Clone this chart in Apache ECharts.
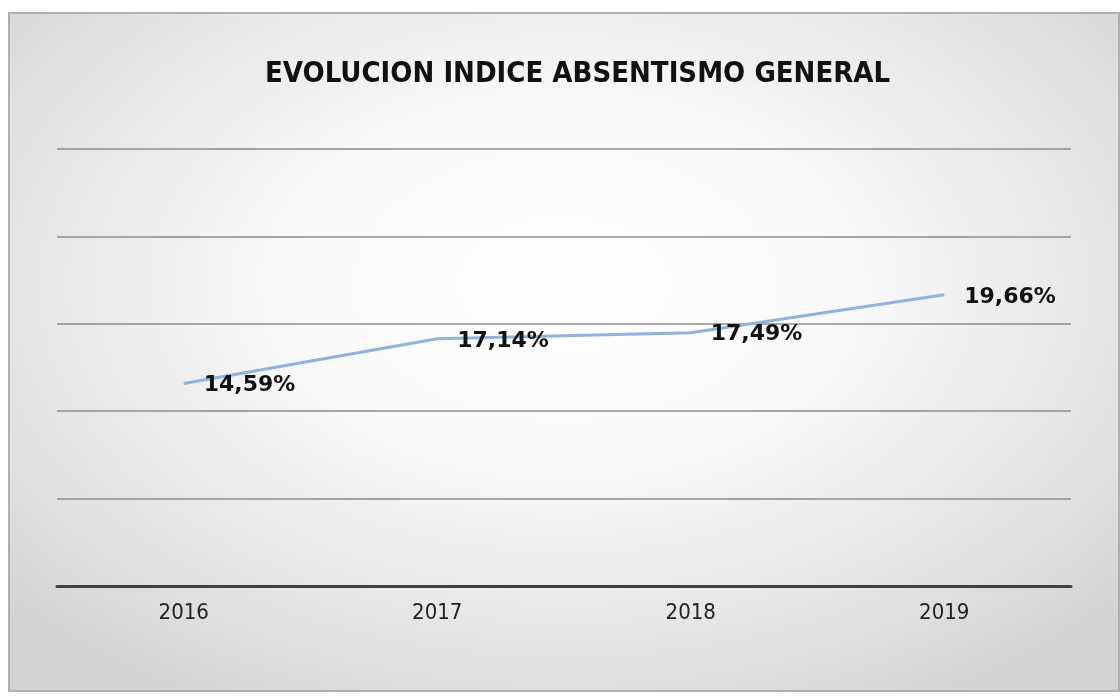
<!DOCTYPE html>
<html>
<head>
<meta charset="utf-8">
<script src="https://cdn.jsdelivr.net/npm/echarts@6/dist/echarts.min.js"></script>
<style>
  html, body { margin: 0; padding: 0; background: #ffffff; }
  #frame {
    position: absolute; left: 8px; top: 12px; width: 1108px; height: 676px;
    border: 2px solid #b0b0b0;
    background: radial-gradient(ellipse 68% 72% at 50% 40%, #ffffff 0%, #fafafa 35%, #e4e4e4 75%, #d3d3d3 100%);
  }
  #chart { position: absolute; left: 0; top: 0; width: 1120px; height: 698px; }
</style>
</head>
<body>
<div id="frame"></div>
<div id="chart"></div>
<script>
// Evolucion indice absentismo general (%)
var years = ['2016', '2017', '2018', '2019'];
var absentismo = [14.59, 17.14, 17.49, 19.66];

var myChart = echarts.init(document.getElementById('chart'));

var option = {
    backgroundColor: 'transparent',
    animation: false,
    title: {
        text: 'EVOLUCION INDICE ABSENTISMO GENERAL',
        left: 260,
        top: 55,
        textStyle: {
            fontFamily: 'DejaVu Sans Condensed',
            fontWeight: 'bold',
            fontSize: 29,
            color: '#111111'
        }
    },
    grid: {
        left: 57,
        right: 49,
        top: 149,
        bottom: 112
    },
    xAxis: {
        type: 'category',
        data: years,
        boundaryGap: true,
        axisLine: { lineStyle: { color: '#404040', width: 3 } },
        axisTick: { show: false },
        axisLabel: {
            margin: 16,
            fontFamily: 'DejaVu Sans Condensed',
            fontSize: 22,
            color: '#222222'
        }
    },
    yAxis: {
        type: 'value',
        min: 3,
        max: 28,
        interval: 5,
        axisLine: { show: false },
        axisTick: { show: false },
        axisLabel: { show: false },
        splitLine: { lineStyle: { color: '#8c8c8c', width: 1.5 } }
    },
    series: [
        {
            name: 'Absentismo',
            type: 'line',
            data: absentismo,
            symbol: 'circle',
            symbolSize: 0,
            showSymbol: true,
            itemStyle: { color: '#8eb2e2' },
            lineStyle: { color: '#8eb2e2', width: 3 },
            label: {
                show: true,
                position: 'right',
                distance: 20,
                offset: [0, 2],
                fontFamily: 'DejaVu Sans',
                fontWeight: 'bold',
                fontSize: 22,
                color: '#111111',
                formatter: function (p) {
                    return p.value.toFixed(2).replace('.', ',') + '%';
                }
            }
        }
    ]
};

myChart.setOption(option, true);
</script>
</body>
</html>
